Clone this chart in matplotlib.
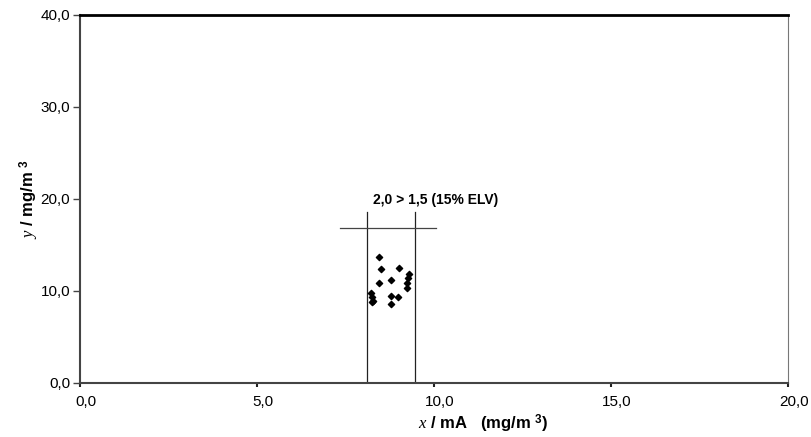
import matplotlib.pyplot as plt
from matplotlib.transforms import ScaledTranslation

plt.rcParams['font.family'] = ['Liberation Sans', 'DejaVu Sans']
plt.rcParams['mathtext.fontset'] = 'custom'
plt.rcParams['mathtext.it'] = 'Liberation Serif:italic'
plt.rcParams['mathtext.rm'] = 'Liberation Sans:bold'

# measured points (x, y) in mg/m3
x_vals = [8.45, 8.49, 9.02, 8.46, 8.78, 9.29, 9.27, 9.25, 9.25,
          8.21, 8.24, 8.29, 8.26, 8.80, 8.99, 8.80]
y_vals = [13.73, 12.36, 12.54, 10.90, 11.20, 11.85, 11.38, 10.83, 10.29,
          9.75, 9.31, 8.95, 8.75, 9.46, 9.31, 8.59]

# range box
x_low, x_high = 8.11, 9.46
v_top = 18.6
h_y = 16.85
h_left, h_right = 7.34, 10.06
note = "2,0 > 1,5 (15% ELV)"

x_ticks = [0, 5, 10, 15, 20]
x_tick_labels = ["0,0", "5,0", "10,0", "15,0", "20,0"]
y_ticks = [0, 10, 20, 30, 40]
y_tick_labels = ["0,0", "10,0", "20,0", "30,0", "40,0"]

fig = plt.figure(figsize=(8.12, 4.37), dpi=100)
ax = fig.add_axes([0.0985, 0.1236, 0.8719, 0.8421])

ax.plot([x_low, x_low], [0, v_top], color='#222222', lw=0.9)
ax.plot([x_high, x_high], [0, v_top], color='#222222', lw=0.9)
ax.plot([h_left, h_right], [h_y, h_y], color='#444444', lw=0.9)
ax.scatter(x_vals, y_vals, marker='D', s=10, color='black', zorder=3)
ax.text(10.05, 19.9, note, ha='center', va='center', fontsize=10, fontweight='bold')

ax.set_xlim(0, 20)
ax.set_ylim(0, 40)
ax.set_xticks(x_ticks)
ax.set_xticklabels(x_tick_labels)
ax.set_yticks(y_ticks)
ax.set_yticklabels(y_tick_labels)
ax.tick_params(axis='y', direction='out', length=5, width=1, color='#444444', labelsize=11, pad=2)
ax.tick_params(axis='x', direction='out', length=3, width=1.5, color='#222222', labelsize=11, pad=6)

# x tick labels sit a little right of their ticks in the original
shift = ScaledTranslation(6 / 100, 0, fig.dpi_scale_trans)
for lab in ax.get_xticklabels():
    lab.set_transform(lab.get_transform() + shift)

ax.spines['left'].set_color('#444444')
ax.spines['bottom'].set_color('#444444')
ax.spines['right'].set_color('#777777')
ax.spines['top'].set_color('black')
ax.spines['top'].set_linewidth(2)
ax.spines['left'].set_linewidth(1.5)
ax.spines['bottom'].set_linewidth(1.5)

ax.set_xlabel(r"$\mathit{x}$ / mA   (mg/m $^{3}$)", fontsize=12, fontweight='bold')
ax.xaxis.set_label_coords(0.57, -0.08)
ax.set_ylabel(r"$\mathit{y}$ / mg/m $^{3}$", fontsize=12, fontweight='bold')
ax.yaxis.set_label_coords(-0.055, 0.5)

fig.savefig("out.png", dpi=100)
